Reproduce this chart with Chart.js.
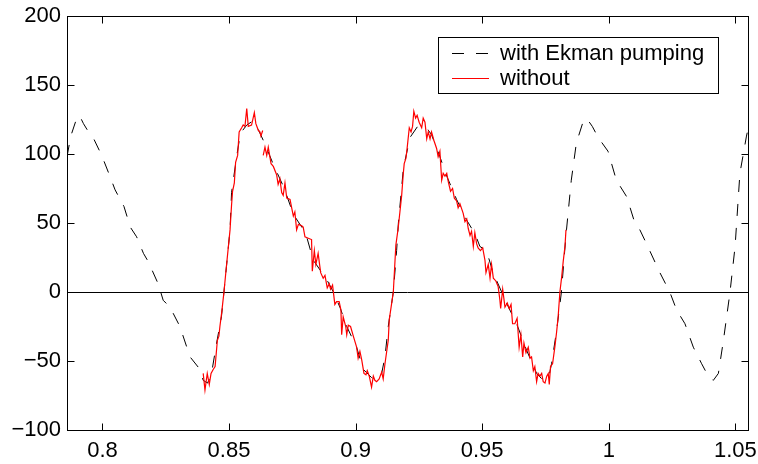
<!DOCTYPE html>
<html>
<head>
<meta charset="utf-8">
<script src="https://cdn.jsdelivr.net/npm/chart.js@4/dist/chart.umd.min.js"></script>
<style>
  html, body { margin: 0; padding: 0; background: #fff; }
  canvas { display: block; }
</style>
</head>
<body>
<canvas id="chart" width="758" height="464"></canvas>
<script>
// axis ticks
const xTicks = [0.8, 0.85, 0.9, 0.95, 1, 1.05];
const xTickLabels = ['0.8', '0.85', '0.9', '0.95', '1', '1.05'];
const yTicks = [-100, -50, 0, 50, 100, 150, 200];
const yTickLabels = ['\u2212100', '\u221250', '0', '50', '100', '150', '200'];

const seriesLabels = ['with Ekman pumping', 'without'];

// "with Ekman pumping" (black dashed)
const blackX = [
  0.7860, 0.7875, 0.7895, 0.7909, 0.7925, 0.7945, 0.7963, 0.7997, 0.8025, 0.8050,
  0.8085, 0.8110, 0.8135, 0.8162, 0.8181, 0.8220, 0.8240, 0.8267, 0.8306, 0.8346,
  0.8385, 0.8398, 0.8415, 0.8430, 0.8450, 0.8470, 0.8480, 0.8504, 0.8510, 0.8530,
  0.8545, 0.8570, 0.8595, 0.8615, 0.8640, 0.8676, 0.8716, 0.8755, 0.8802, 0.8833,
  0.8886, 0.8912, 0.8938, 0.8965, 0.9004, 0.9030, 0.9063, 0.9080, 0.9103, 0.9116,
  0.9129, 0.9149, 0.9162, 0.9169, 0.9189, 0.9215, 0.9245, 0.9280, 0.9300, 0.9333,
  0.9360, 0.9399, 0.9439, 0.9472, 0.9491, 0.9517, 0.9543, 0.9577, 0.9596, 0.9636,
  0.9675, 0.9715, 0.9741, 0.9765, 0.9774, 0.9794, 0.9813, 0.9826, 0.9833, 0.9852,
  0.9872, 0.9898, 0.9912, 0.9935, 0.9958, 0.9997, 1.0030, 1.0071, 1.0103, 1.0123,
  1.0149, 1.0202, 1.0241, 1.0268, 1.0301, 1.0334, 1.0367, 1.0393, 1.0413, 1.0433,
  1.0453, 1.0479, 1.0499, 1.0518, 1.0544, 1.0550
];
const blackY = [
  98, 113, 124, 128, 122, 116, 112, 99, 86, 74,
  62, 47, 40, 28, 22, 6, -6, -11, -25, -47,
  -56, -64, -66, -60, -38, -18, 0, 45, 72, 98,
  115, 121, 124, 118, 108, 92, 76, 56, 43, 23,
  9, 0, -11, -25, -40, -56, -62, -64, -59, -47,
  -25, 0, 30, 50, 90, 112, 120, 119, 114, 98,
  84, 67, 52, 42, 33, 30, 14, 0, -8, -23,
  -42, -59, -64, -60, -52, -28, 0, 30, 45, 81,
  108, 123, 126, 120, 112, 102, 81, 69, 50, 45,
  35, 14, 0, -13, -23, -40, -52, -61, -64, -59,
  -35, 0, 33, 86, 113, 118
];

// "without" (red, noisy); null = break in the line
const redX = [
  0.8398, 0.8405, 0.8414, 0.8422, 0.8429, 0.8438, 0.8445, 0.8454, 0.8460, 0.8464,
  0.8471, 0.8480, 0.8491, 0.8504, 0.8510, 0.8514, 0.8521, 0.8526, 0.8534, 0.8540,
  0.8550, 0.8556, 0.8563, 0.8570, 0.8576, 0.8589, 0.8600, 0.8606, 0.8616, 0.8622,
  0.8626, 0.8633, 0.8634, 0.8635, 0.8642, 0.8649, 0.8655, 0.8666, 0.8675, 0.8688,
  0.8694, 0.8701, 0.8708, 0.8714, 0.8721, 0.8728, 0.8741, 0.8754, 0.8760, 0.8767,
  0.8774, 0.8787, 0.8793, 0.8800, 0.8813, 0.8826, 0.8829, 0.8837, 0.8843, 0.8852,
  0.8862, 0.8872, 0.8879, 0.8888, 0.8896, 0.8901, 0.8909, 0.8918, 0.8925, 0.8935,
  0.8942, 0.8945, 0.8951, 0.8961, 0.8965, 0.8971, 0.8980, 0.8991, 0.9004, 0.9010,
  0.9017, 0.9024, 0.9033, 0.9041, 0.9046, 0.9054, 0.9063, 0.9070, 0.9076, 0.9083,
  0.9093, 0.9103, 0.9109, 0.9116, 0.9129, 0.9133, 0.9149, 0.9159, 0.9168, 0.9175,
  0.9182, 0.9188, 0.9192, 0.9199, 0.9204, 0.9212, 0.9219, 0.9225, 0.9230, 0.9237,
  0.9243, 0.9251, 0.9261, 0.9267, 0.9274, 0.9281, 0.9287, 0.9294, 0.9300, 0.9309,
  0.9320, 0.9326, 0.9333, 0.9340, 0.9346, 0.9353, 0.9360, 0.9366, 0.9375, 0.9383,
  0.9390, 0.9399, 0.9405, 0.9412, 0.9425, 0.9432, 0.9439, 0.9445, 0.9452, 0.9458,
  0.9465, 0.9471, 0.9478, 0.9484, 0.9493, 0.9502, 0.9511, 0.9515, 0.9524, 0.9531,
  0.9537, 0.9544, 0.9554, 0.9563, 0.9570, 0.9573, 0.9581, 0.9590, 0.9599, 0.9607,
  0.9614, 0.9620, 0.9629, 0.9638, 0.9646, 0.9653, 0.9660, 0.9665, 0.9673, 0.9682,
  0.9689, 0.9695, 0.9702, 0.9708, 0.9715, 0.9721, 0.9728, 0.9735, 0.9741, 0.9748,
  0.9755, 0.9761, 0.9765, 0.9770, 0.9778, 0.9787, 0.9794, 0.9800, 0.9807, 0.9814,
  0.9820, 0.9827, 0.9831
];
const redY = [
  -59, -71, -59, -67, -59, -56, -54, -35, -32, -25,
  -15, 0, 21, 45, 63, 73, 79, 94, 99, 116,
  119, 121, 120, 133, 120, 121, 130, 122, 117, 116,
  113, 117, null, 99, 105, 99, 105, 93, 91, 85,
  78, 82, 72, 70, 79, 68, 67, 55, 58, 45,
  49, 48, 47, 40, 39, 38, 15, 30, 20, 28,
  14, 10, 12, 3, 6, 2, 5, -9, -7, -7,
  -13, -31, -18, -25, -31, -24, -25, -32, -40, -48,
  -43, -49, -59, -60, -57, -61, -69, -61, -64, -65,
  -63, -58, -63, -52, -35, -20, 0, 34, 46, 58,
  70, 85, 93, 97, 105, 119, 116, 120, 131, 126,
  128, 123, 119, 126, 123, 111, 116, 111, 116, 110,
  104, 98, 102, 81, 86, 84, 86, 80, 73, 75,
  68, 66, 61, 64, 57, 51, 53, 46, 41, 44,
  33, 43, 35, 32, 30, 32, 23, 14, 20, 10,
  20, 10, 8, 4, -6, -12, 2, -11, -8, -12,
  -9, -23, -23, -19, -40, -31, -47, -37, -44, -40,
  -48, -47, -57, -54, -65, -59, -61, -59, -65, -66,
  -61, -59, -67, -54, -52, -40, -29, -18, 0, 11,
  22, 33, 45
];

const FONT = 'Liberation Sans, Arial, Helvetica, sans-serif';

// 축 박스, 안쪽 눈금, 범례
const framePlugin = {
  id: 'frame',
  afterDraw(chart) {
    const ctx = chart.ctx;
    const a = chart.chartArea;
    const xs = chart.scales.x;
    const ys = chart.scales.y;
    const L = Math.round(a.left) + 0.5;
    const R = Math.round(a.right) + 0.5;
    const T = Math.round(a.top) + 0.5;
    const B = Math.round(a.bottom) + 0.5;
    const tl = 7;

    ctx.save();
    ctx.strokeStyle = '#000';
    ctx.lineWidth = 1;
    ctx.setLineDash([]);
    ctx.strokeRect(L, T, R - L, B - T);

    ctx.beginPath();
    xTicks.forEach(v => {
      const px = Math.round(xs.getPixelForValue(v)) + 0.5;
      ctx.moveTo(px, B); ctx.lineTo(px, B - tl);
      ctx.moveTo(px, T); ctx.lineTo(px, T + tl);
    });
    yTicks.forEach(v => {
      const py = Math.round(ys.getPixelForValue(v)) + 0.5;
      ctx.moveTo(L, py); ctx.lineTo(L + tl, py);
      ctx.moveTo(R, py); ctx.lineTo(R - tl, py);
    });
    ctx.stroke();

    // legend
    const bx = 438.5, by = 37.5, bw = 280, bh = 56;
    ctx.fillStyle = '#fff';
    ctx.fillRect(bx, by, bw, bh);
    ctx.strokeRect(bx, by, bw, bh);
    const rows = [53.5, 78.5];
    chart.data.datasets.forEach((ds, i) => {
      ctx.beginPath();
      ctx.strokeStyle = ds.borderColor;
      ctx.lineWidth = ds.borderWidth;
      ctx.setLineDash(ds.borderDash || []);
      ctx.moveTo(452, rows[i]);
      ctx.lineTo(489, rows[i]);
      ctx.stroke();
      ctx.setLineDash([]);
      ctx.fillStyle = '#000';
      ctx.font = '22px ' + FONT;
      ctx.textBaseline = 'middle';
      ctx.textAlign = 'left';
      ctx.fillText(ds.label, 500, rows[i]);
    });
    ctx.restore();
  }
};

const ctx = document.getElementById('chart').getContext('2d');
new Chart(ctx, {
  type: 'line',
  data: {
    datasets: [
      {
        label: seriesLabels[0],
        data: blackX.map((x, i) => ({ x: x, y: blackY[i] })),
        borderColor: '#000000',
        borderWidth: 1,
        borderDash: [12, 12],
        pointRadius: 0,
        tension: 0,
        fill: false,
        order: 1,
      },
      {
        label: seriesLabels[1],
        data: redX.map((x, i) => ({ x: x, y: redY[i] })),
        borderColor: '#ff0000',
        borderWidth: 1.2,
        pointRadius: 0,
        tension: 0,
        fill: false,
        spanGaps: false,
        order: 0,
      },
    ],
  },
  options: {
    responsive: false,
    animation: false,
    layout: { padding: { top: 16, right: 10, left: 0, bottom: 0 } },
    plugins: {
      legend: { display: false },
      tooltip: { enabled: false },
    },
    scales: {
      x: {
        type: 'linear',
        min: 0.786,
        max: 1.055,
        afterBuildTicks: s => { s.ticks = xTicks.map(v => ({ value: v })); },
        afterFit: s => { s.height = 34; s.paddingLeft = 0; s.paddingRight = 0; },
        grid: { display: false },
        border: { display: false },
        ticks: {
          padding: 0,
          maxRotation: 0,
          autoSkip: false,
          color: '#000',
          font: { family: FONT, size: 22 },
          callback: v => xTickLabels[xTicks.indexOf(v)],
        },
      },
      y: {
        type: 'linear',
        min: -100,
        max: 200,
        afterBuildTicks: s => { s.ticks = yTicks.map(v => ({ value: v })); },
        afterFit: s => { s.width = 67; s.paddingTop = 0; s.paddingBottom = 0; },
        grid: {
          drawTicks: false,
          lineWidth: 1,
          color: c => (c.tick && c.tick.value === 0 ? '#000' : 'rgba(0,0,0,0)'),
        },
        border: { display: false },
        ticks: {
          padding: 6,
          color: '#000',
          font: { family: FONT, size: 22 },
          callback: v => yTickLabels[yTicks.indexOf(v)],
        },
      },
    },
  },
  plugins: [framePlugin],
});
</script>
</body>
</html>
